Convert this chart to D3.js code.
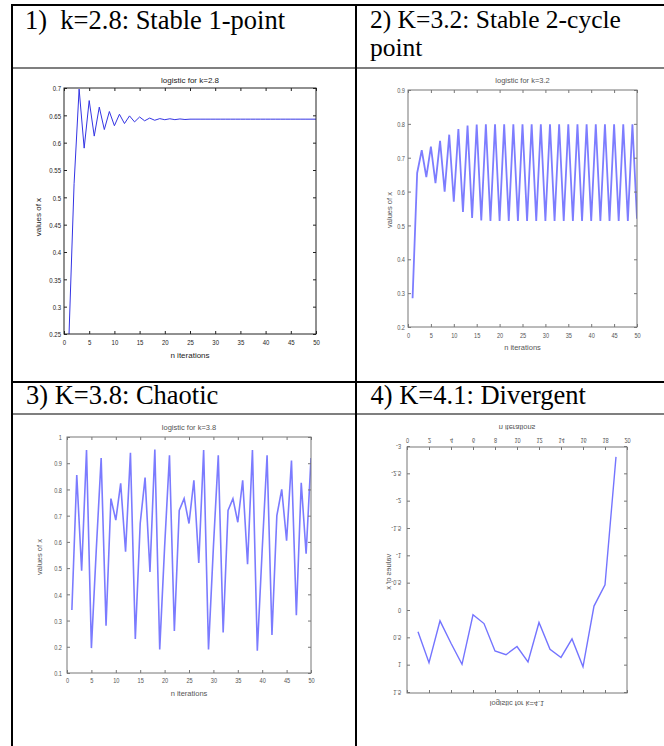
<!DOCTYPE html>
<html>
<head>
<meta charset="utf-8">
<script src="https://cdn.jsdelivr.net/npm/d3@7"></script>
<style>
  body { margin: 0; background: #fff; }
  svg { display: block; }
</style>
</head>
<body>
<div id="chart"></div>
<script>
// values
const k28Values = [0.25, 0.525, 0.698, 0.590, 0.677, 0.612, 0.665, 0.624, 0.657, 0.631,
  0.652, 0.635, 0.649, 0.638, 0.647, 0.640, 0.645, 0.641, 0.644, 0.642,
  0.6437, 0.6421, 0.6434, 0.6424, 0.643, 0.643, 0.643, 0.643, 0.643, 0.643,
  0.643, 0.643, 0.643, 0.643, 0.643, 0.643, 0.643, 0.643, 0.643, 0.643,
  0.643, 0.643, 0.643, 0.643, 0.643, 0.643, 0.643, 0.643, 0.643, 0.643];
const k32Values = [0.285, 0.655, 0.722, 0.643, 0.733, 0.625, 0.750, 0.600, 0.768, 0.570,
  0.785, 0.540, 0.795, 0.522, 0.798, 0.515, 0.799, 0.513, 0.799, 0.513,
  0.799, 0.513, 0.799, 0.513, 0.799, 0.513, 0.799, 0.513, 0.799, 0.513,
  0.799, 0.513, 0.799, 0.513, 0.799, 0.513, 0.799, 0.513, 0.799, 0.513,
  0.799, 0.513, 0.799, 0.513, 0.799, 0.513, 0.799, 0.513, 0.799, 0.520];
const k38Values = [0.34, 0.855, 0.49, 0.95, 0.195, 0.57, 0.92, 0.28, 0.765, 0.683,
  0.823, 0.563, 0.94, 0.23, 0.67, 0.845, 0.485, 0.952, 0.19, 0.58,
  0.93, 0.26, 0.72, 0.765, 0.67, 0.835, 0.52, 0.95, 0.19, 0.58,
  0.93, 0.255, 0.72, 0.765, 0.675, 0.835, 0.515, 0.95, 0.185, 0.57,
  0.93, 0.245, 0.70, 0.80, 0.605, 0.91, 0.32, 0.825, 0.555, 0.92];
const k41Values = [0.38, 0.945, 0.18, 0.59, 0.975, 0.07, 0.23, 0.73, 0.80, 0.65,
  0.93, 0.21, 0.70, 0.85, 0.51, 1.02, -0.09, -0.48, -2.82];

const xTicks50 = [0, 5, 10, 15, 20, 25, 30, 35, 40, 45, 50];
const xTicks20 = [0, 2, 4, 6, 8, 10, 12, 14, 16, 18, 20];
const yTicksK28 = [0.25, 0.3, 0.35, 0.4, 0.45, 0.5, 0.55, 0.6, 0.65, 0.7];
const yTicksK32 = [0.2, 0.3, 0.4, 0.5, 0.6, 0.7, 0.8, 0.9];
const yTicksK38 = [0.1, 0.2, 0.3, 0.4, 0.5, 0.6, 0.7, 0.8, 0.9, 1];
const yTicksK41 = [-3, -2.5, -2, -1.5, -1, -0.5, 0, 0.5, 1, 1.5];

// cell headings; the second one wraps onto two lines
const headers = [
  { text: "1)  k=2.8: Stable 1-point", x: 25, y: 28.5, size: 26.5 },
  { text: "2) K=3.2: Stable 2-cycle", x: 370, y: 27.5, size: 25.5 },
  { text: "point", x: 370, y: 56, size: 25.5 },
  { text: "3) K=3.8: Chaotic", x: 26, y: 403.5, size: 26.5 },
  { text: "4) K=4.1: Divergent", x: 370.5, y: 403.5, size: 26.5 }
];

const W = 664, H = 746;

const svg = d3.select("#chart").append("svg")
  .attr("width", W)
  .attr("height", H);

// table borders
const rules = [
  [11, 4, W - 11, 2],      // top
  [11, 4, 2, H - 4],       // left
  [355, 4, 2, H - 4],      // middle
  [11, 67.5, W - 11, 1],   // under first header row
  [11, 381, W - 11, 2],    // top of second row
  [11, 413.5, W - 11, 1]   // under second header row
];
svg.selectAll("rect.rule")
  .data(rules)
  .enter()
  .append("rect")
  .attr("class", "rule")
  .attr("x", d => d[0]).attr("y", d => d[1])
  .attr("width", d => d[2]).attr("height", d => d[3])
  .attr("fill", "#000");

svg.selectAll("text.hdr")
  .data(headers)
  .enter()
  .append("text")
  .attr("class", "hdr")
  .attr("x", d => d.x)
  .attr("y", d => d.y)
  .style("font-family", "'Liberation Serif', 'Times New Roman', serif")
  .style("font-size", d => d.size + "px")
  .style("white-space", "pre")
  .attr("fill", "#000")
  .text(d => d.text);

const panels = [
  {
    id: "p1", values: k28Values, xDomain: [0, 50], yDomain: [0.25, 0.7],
    xTicks: xTicks50, yTicks: yTicksK28,
    left: 64, right: 316, top: 88, bottom: 334,
    title: "logistic for k=2.8", titleY: 80, xTickY: 341.7, xLabelY: 355,
    yLabelX: 38, yLabelY: 217, yTickPad: 3,
    axisColor: "#222", textColor: "#222", lineColor: "#3434e4", lineWidth: 1, font: 8
  },
  {
    id: "p2", values: k32Values, xDomain: [0, 50], yDomain: [0.2, 0.9],
    xTicks: xTicks50, yTicks: yTicksK32,
    left: 408, right: 637, top: 90, bottom: 327,
    title: "logistic for k=3.2", titleY: 80, xTickY: 335.7, xLabelY: 347,
    yLabelX: 389, yLabelY: 210, yTickPad: 3,
    axisColor: "#777", textColor: "#555", lineColor: "#7d7dff", lineWidth: 1.8, font: 7.5
  },
  {
    id: "p3", values: k38Values, xDomain: [0, 50], yDomain: [0.1, 1],
    xTicks: xTicks50, yTicks: yTicksK38,
    left: 67, right: 311, top: 437, bottom: 673,
    title: "logistic for k=3.8", titleY: 427, xTickY: 680, xLabelY: 693,
    yLabelX: 39, yLabelY: 557, yTickPad: 5,
    axisColor: "#777", textColor: "#555", lineColor: "#7b7bff", lineWidth: 1.6, font: 7.5
  },
  {
    // this plot is printed upside down in the source, so it is drawn and then flipped
    id: "p4", values: k41Values, xDomain: [0, 20], yDomain: [-3, 1.5],
    xTicks: xTicks20, yTicks: yTicksK41,
    left: 407, right: 627, top: 447, bottom: 693,
    title: "logistic for k=4.1", titleY: 436.7, xTickY: 699.3, xLabelY: 712.7,
    yLabelX: 388, yLabelY: 568.3, yTickPad: 6,
    axisColor: "#777", textColor: "#555", lineColor: "#7474ff", lineWidth: 1.4, font: 7.5,
    flip: true
  }
];

const smallFont = "'Liberation Sans', Arial, sans-serif";

function drawPanel(p) {
  const g = svg.append("g");
  if (p.flip) g.attr("transform", `translate(0,${p.top + p.bottom}) scale(1,-1)`);

  const x = d3.scaleLinear().domain(p.xDomain).range([p.left, p.right]);
  const y = d3.scaleLinear().domain(p.yDomain).range([p.bottom, p.top]);

  g.append("clipPath").attr("id", "clip-" + p.id)
    .append("rect")
    .attr("x", p.left).attr("y", p.top)
    .attr("width", p.right - p.left).attr("height", p.bottom - p.top);

  const line = d3.line()
    .x((d, i) => x(i + 1))
    .y(d => y(d));

  g.append("path")
    .datum(p.values)
    .attr("clip-path", `url(#clip-${p.id})`)
    .attr("fill", "none")
    .attr("stroke", p.lineColor)
    .attr("stroke-width", p.lineWidth)
    .attr("stroke-linejoin", "miter")
    .attr("d", line);

  const fmt = d => String(+d.toFixed(2));

  const styleAxis = sel => {
    sel.select(".domain").remove();
    sel.selectAll("line").attr("stroke", p.axisColor);
    sel.selectAll("text")
      .attr("fill", p.textColor)
      .style("font-family", smallFont)
      .style("font-size", p.font + "px");
  };

  // bottom with labels
  g.append("g")
    .attr("transform", `translate(0,${p.bottom})`)
    .call(d3.axisBottom(x).tickValues(p.xTicks).tickSize(-3).tickSizeOuter(0).tickFormat(fmt))
    .call(styleAxis)
    .call(s => s.selectAll("text")
      .attr("y", p.xTickY - p.bottom)
      .attr("dy", "0.36em")
      .attr("transform", "scale(0.75,1)"));

  g.append("g")
    .attr("transform", `translate(0,${p.top})`)
    .call(d3.axisTop(x).tickValues(p.xTicks).tickSize(-3).tickSizeOuter(0).tickFormat(""))
    .call(styleAxis);

  g.append("g")
    .attr("transform", `translate(${p.left},0)`)
    .call(d3.axisLeft(y).tickValues(p.yTicks).tickSize(-3).tickSizeOuter(0).tickFormat(fmt))
    .call(styleAxis)
    .call(s => s.selectAll("text")
      .attr("x", -p.yTickPad / 0.75)
      .attr("dy", "0.36em")
      .attr("transform", "scale(0.75,1)"));

  g.append("g")
    .attr("transform", `translate(${p.right},0)`)
    .call(d3.axisRight(y).tickValues(p.yTicks).tickSize(-3).tickSizeOuter(0).tickFormat(""))
    .call(styleAxis);

  g.append("rect")
    .attr("x", p.left).attr("y", p.top)
    .attr("width", p.right - p.left).attr("height", p.bottom - p.top)
    .attr("fill", "none")
    .attr("stroke", p.axisColor)
    .attr("stroke-width", 1);

  const cx = (p.left + p.right) / 2;
  const label = (txt, lx, ly, rot) => g.append("text")
    .attr("transform", `translate(${lx},${ly})` + (rot ? " rotate(-90)" : ""))
    .attr("text-anchor", "middle")
    .attr("dy", "0.35em")
    .attr("fill", p.textColor)
    .style("font-family", smallFont)
    .style("font-size", p.font + "px")
    .text(txt);

  label(p.title, cx, p.titleY, false);
  label("n iterations", cx, p.xLabelY, false);
  label("values of x", p.yLabelX, p.yLabelY, true);
}

panels.forEach(drawPanel);
</script>
</body>
</html>
